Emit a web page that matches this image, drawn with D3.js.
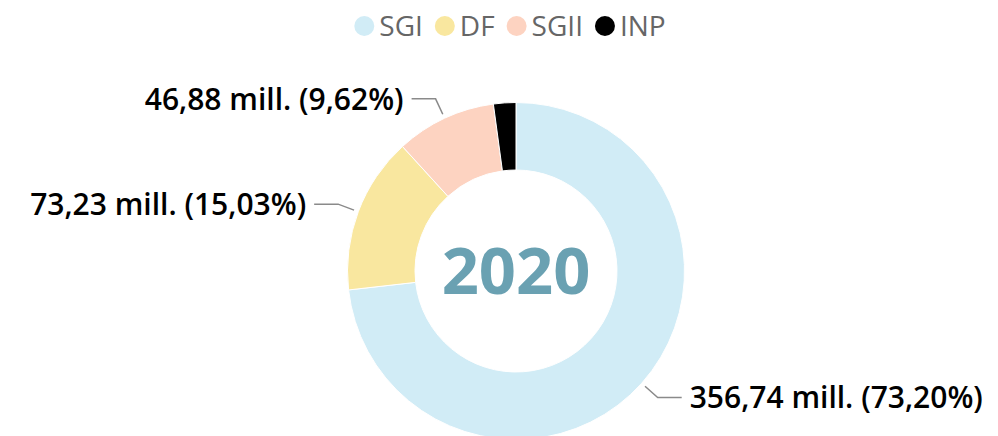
<!DOCTYPE html>
<html>
<head>
<meta charset="utf-8">
<script src="https://cdn.jsdelivr.net/npm/d3@7"></script>
<style>
  html, body { margin: 0; padding: 0; background: #fff; }
  svg { display: block; }
</style>
</head>
<body>
<svg id="chart" width="998" height="436"></svg>
<script>
const categories = ["SGI", "DF", "SGII", "INP"];
const values = [356.74, 73.23, 46.88, 10.45];
const percentLabels = ["73,20%", "15,03%", "9,62%", "2,14%"];
const showLabel = [true, true, true, false];
const colors = ["#d1ecf6", "#f9e79f", "#fdd3c1", "#000000"];
const centerTitle = "2020";

const W = 998, H = 436;
const cx = 516, cy = 271;
const outerR = 168.5, innerR = 101;

const svg = d3.select("#chart");

const data = categories.map((c, i) => ({ cat: c, value: values[i], pct: percentLabels[i], show: showLabel[i], color: colors[i] }));

const pie = d3.pie().value(d => d.value).sort(null);
const arcs = pie(data);
const arc = d3.arc().innerRadius(innerR).outerRadius(outerR);

const g = svg.append("g").attr("transform", `translate(${cx},${cy})`);

g.selectAll("path.slice")
  .data(arcs)
  .join("path")
  .attr("class", "slice")
  .attr("d", arc)
  .attr("fill", d => d.data.color)
  .attr("stroke", "#fff")
  .attr("stroke-width", 1);

// center title
g.append("text")
  .attr("text-anchor", "middle")
  .attr("dy", "0.36em")
  .attr("font-family", "'Open Sans', sans-serif")
  .attr("font-weight", 700)
  .attr("font-size", 65)
  .attr("fill", "#6aa1b2")
  .text(centerTitle);

// labels
const fmt = v => d3.format(".2f")(v).replace(".", ",");
const r1 = 173, r2 = 190, hlen = 24, gap = 8;
const labelData = arcs.filter(d => d.data.show);
labelData.forEach(d => {
  const a = (d.startAngle + d.endAngle) / 2;
  const p1 = [r1 * Math.sin(a), -r1 * Math.cos(a)];
  const p2 = [r2 * Math.sin(a), -r2 * Math.cos(a)];
  const right = Math.sin(a) >= 0;
  const p3 = [p2[0] + (right ? hlen : -hlen), p2[1]];
  g.append("polyline")
    .attr("points", [p1, p2, p3].map(p => p.join(",")).join(" "))
    .attr("fill", "none")
    .attr("stroke", "#8a8a8a")
    .attr("stroke-width", 1.5);
  g.append("text")
    .attr("x", p3[0] + (right ? gap : -gap))
    .attr("y", p3[1])
    .attr("dy", "0.36em")
    .attr("text-anchor", right ? "start" : "end")
    .attr("font-family", "'Open Sans', sans-serif")
    .attr("font-weight", 600)
    .attr("font-size", 30)
    .attr("fill", "#000")
    .text(`${fmt(d.data.value)} mill. (${d.data.pct})`);
});

// legend
const legend = svg.append("g");
const legendY = 26;
const cr = 10, tgap = 5, itemGap = 12;
const items = legend.selectAll("g.item").data(data).join("g").attr("class", "item");
items.append("circle").attr("r", cr).attr("cy", legendY).attr("fill", d => d.color);
items.append("text")
  .attr("y", legendY)
  .attr("dy", "0.36em")
  .attr("font-family", "'Open Sans', sans-serif")
  .attr("font-size", 28)
  .attr("fill", "#666")
  .text(d => d.cat);
let x = 0;
const positions = [];
items.each(function() {
  const t = d3.select(this).select("text");
  const w = t.node().getComputedTextLength();
  positions.push({ cx: x + cr, tx: x + 2 * cr + tgap, w });
  x += 2 * cr + tgap + w + itemGap;
});
const totalW = x - itemGap;
const startX = 510 - totalW / 2;
items.each(function(d, i) {
  const s = d3.select(this);
  s.select("circle").attr("cx", startX + positions[i].cx);
  s.select("text").attr("x", startX + positions[i].tx);
});
</script>
</body>
</html>
